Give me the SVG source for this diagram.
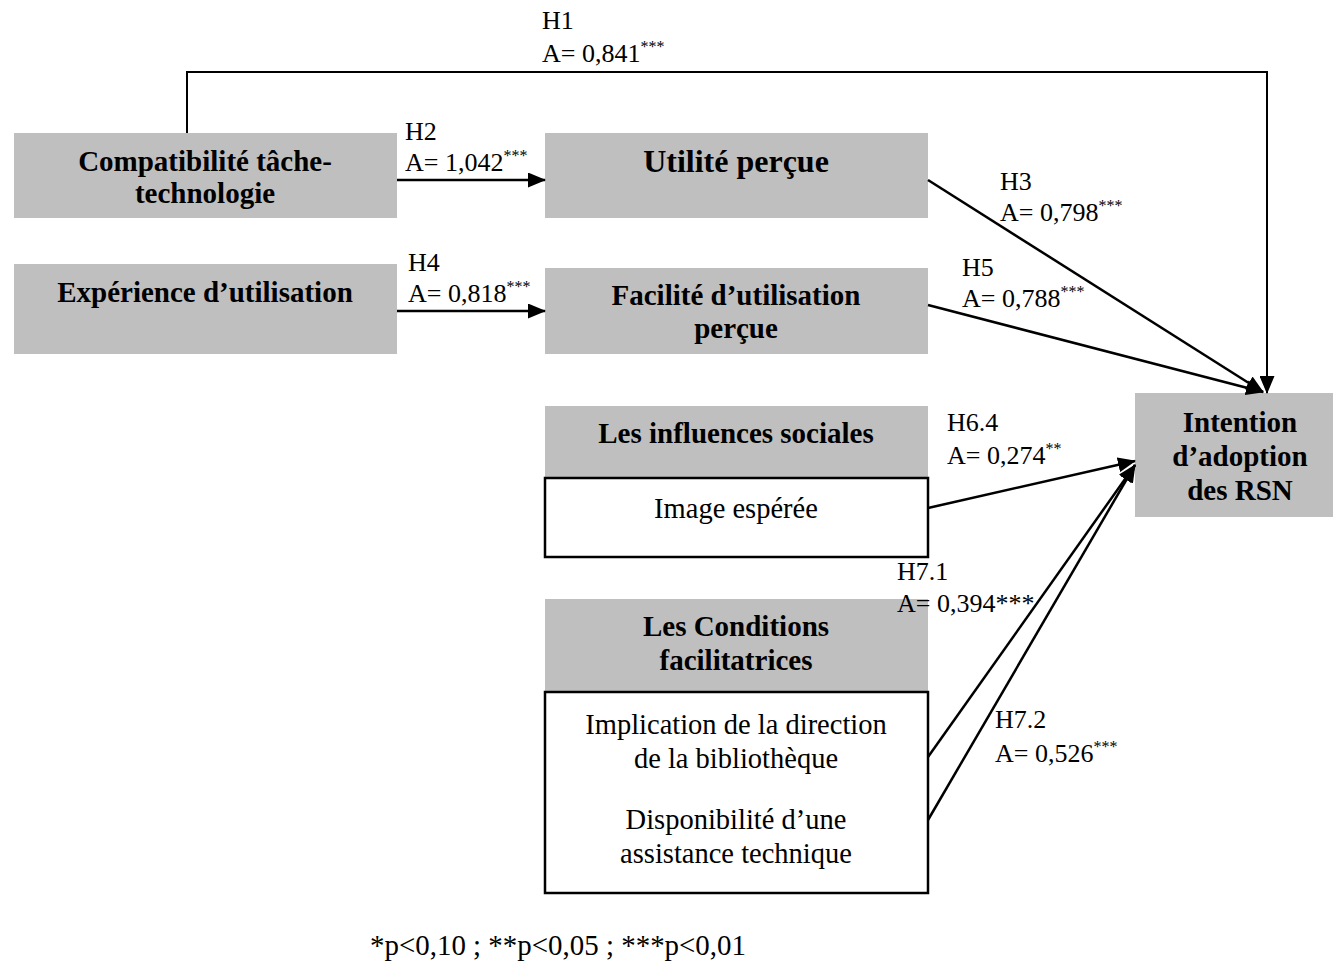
<svg xmlns="http://www.w3.org/2000/svg" width="1333" height="962" viewBox="0 0 1333 962">
<style>
.g{fill:#bfbfbf;stroke:none}
.w{fill:#fff;stroke:#000;stroke-width:2.5}
.b{font-family:"Liberation Serif","Times New Roman",serif;font-weight:bold;font-size:29px;fill:#000;text-anchor:middle}
.n{font-family:"Liberation Serif","Times New Roman",serif;font-size:28.5px;fill:#000;text-anchor:middle}
.l{font-family:"Liberation Serif","Times New Roman",serif;font-size:26px;fill:#000}
.s{font-size:16px}
.c{fill:none;stroke:#000;stroke-width:2.5}
.f{font-family:"Liberation Serif","Times New Roman",serif;font-size:29px;fill:#000}
</style>
<defs>
<marker id="ah" viewBox="0 0 18 15" refX="17" refY="7.5" markerWidth="18" markerHeight="15" markerUnits="userSpaceOnUse" orient="auto">
<path d="M0,0 L18,7.5 L0,15 z" fill="#000"/>
</marker>
</defs>

<g id="n-compat">
<rect class="g" x="14" y="133" width="383" height="85"/>
<text class="b" x="205" y="171">Compatibilité tâche-</text>
<text class="b" x="205" y="203">technologie</text>
</g>
<g id="n-utilite">
<rect class="g" x="545" y="133" width="383" height="85"/>
<text class="b" x="736" y="172" style="font-size:32px">Utilité perçue</text>
</g>
<g id="n-experience">
<rect class="g" x="14" y="264" width="383" height="90"/>
<text class="b" x="205" y="302">Expérience d’utilisation</text>
</g>
<g id="n-facilite">
<rect class="g" x="545" y="268" width="383" height="86"/>
<text class="b" x="736" y="305">Facilité d’utilisation</text>
<text class="b" x="736" y="338">perçue</text>
</g>
<g id="n-influences">
<rect class="g" x="545" y="406" width="383" height="72"/>
<text class="b" x="736" y="443">Les influences sociales</text>
<rect class="w" x="545" y="478" width="383" height="79"/>
<text class="n" x="736" y="518">Image espérée</text>
</g>
<g id="n-conditions">
<rect class="g" x="545" y="599" width="383" height="93"/>
<text class="b" x="736" y="636">Les Conditions</text>
<text class="b" x="736" y="670">facilitatrices</text>
<rect class="w" x="545" y="692" width="383" height="201"/>
<text class="n" x="736" y="734">Implication de la direction</text>
<text class="n" x="736" y="768">de la bibliothèque</text>
<text class="n" x="736" y="829">Disponibilité d’une</text>
<text class="n" x="736" y="863">assistance technique</text>
</g>
<g id="n-intention">
<rect class="g" x="1135" y="393" width="198" height="124"/>
<text class="b" x="1240" y="432">Intention</text>
<text class="b" x="1240" y="466">d’adoption</text>
<text class="b" x="1240" y="500">des RSN</text>
</g>

<g id="connectors">
<path class="c" d="M187,133 V72 H1267 V393" style="stroke-width:2" marker-end="url(#ah)"/>
<line class="c" x1="397" y1="180" x2="545" y2="180" marker-end="url(#ah)"/>
<line class="c" x1="397" y1="311" x2="545" y2="311" marker-end="url(#ah)"/>
<line class="c" x1="928" y1="180" x2="1263" y2="392" marker-end="url(#ah)"/>
<line class="c" x1="928" y1="305" x2="1263" y2="392" marker-end="url(#ah)"/>
<line class="c" x1="928" y1="508" x2="1135" y2="461" marker-end="url(#ah)"/>
<line class="c" x1="928" y1="757" x2="1135" y2="465" marker-end="url(#ah)"/>
<line class="c" x1="928" y1="820" x2="1135" y2="465" marker-end="url(#ah)"/>
</g>

<g id="labels">
<text class="l" x="542" y="29">H1</text>
<text class="l" x="542" y="62">A= 0,841<tspan class="s" dy="-10">***</tspan></text>
<text class="l" x="405" y="140">H2</text>
<text class="l" x="405" y="171">A= 1,042<tspan class="s" dy="-10">***</tspan></text>
<text class="l" x="408" y="271">H4</text>
<text class="l" x="408" y="302">A= 0,818<tspan class="s" dy="-10">***</tspan></text>
<text class="l" x="1000" y="190">H3</text>
<text class="l" x="1000" y="221">A= 0,798<tspan class="s" dy="-10">***</tspan></text>
<text class="l" x="962" y="276">H5</text>
<text class="l" x="962" y="307">A= 0,788<tspan class="s" dy="-10">***</tspan></text>
<text class="l" x="947" y="431">H6.4</text>
<text class="l" x="947" y="464">A= 0,274<tspan class="s" dy="-10">**</tspan></text>
<text class="l" x="897" y="580">H7.1</text>
<text class="l" x="897" y="612">A= 0,394***</text>
<text class="l" x="995" y="728">H7.2</text>
<text class="l" x="995" y="762">A= 0,526<tspan class="s" dy="-10">***</tspan></text>
</g>

<text class="f" x="370" y="955" textLength="376" lengthAdjust="spacingAndGlyphs">*p&lt;0,10 ; **p&lt;0,05 ; ***p&lt;0,01</text>
</svg>
